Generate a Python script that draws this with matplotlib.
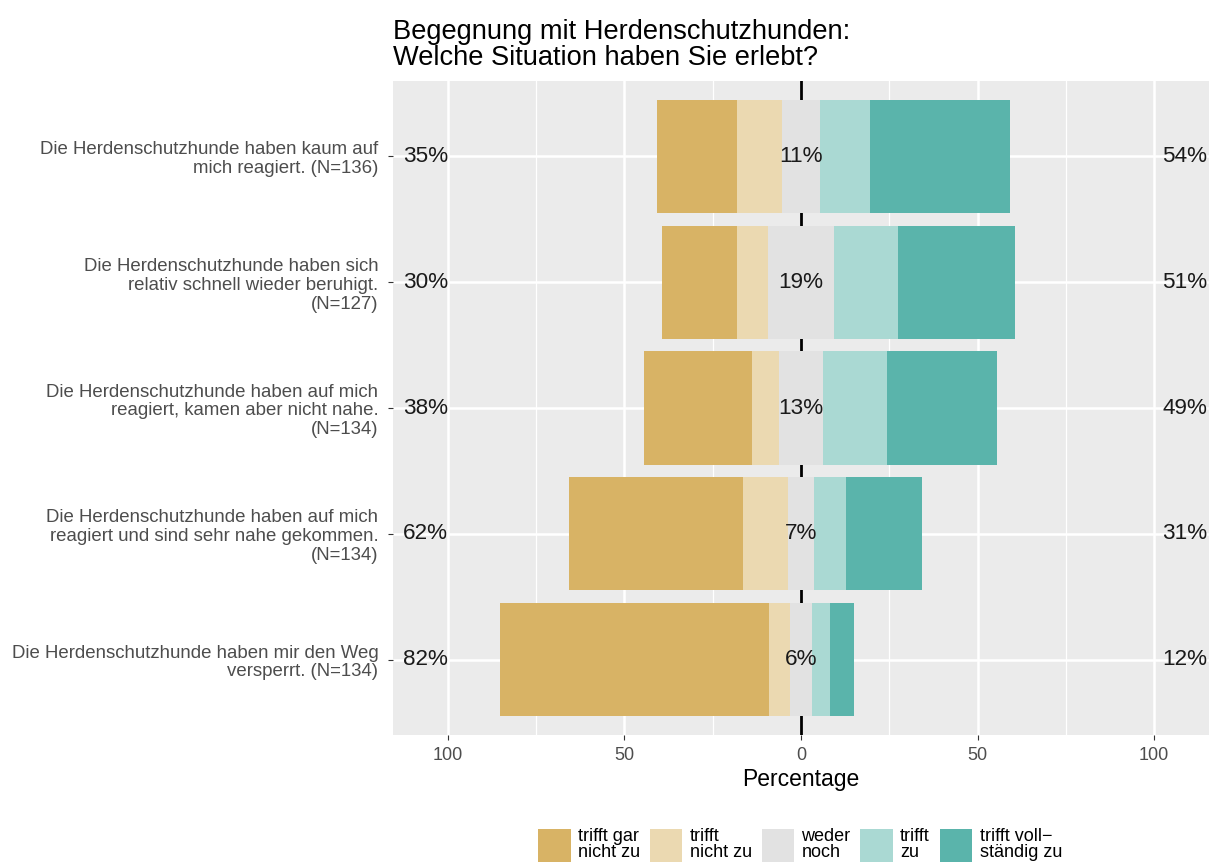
import matplotlib
matplotlib.use("Agg")
import matplotlib.pyplot as plt
from matplotlib.patches import Patch
import numpy as np

plt.rcParams['font.family'] = ['Liberation Sans', 'DejaVu Sans']

# ---- data (percent, top to bottom) ----
items = [
    "Die Herdenschutzhunde haben kaum auf\nmich reagiert. (N=136)",
    "Die Herdenschutzhunde haben sich\nrelativ schnell wieder beruhigt.\n(N=127)",
    "Die Herdenschutzhunde haben auf mich\nreagiert, kamen aber nicht nahe.\n(N=134)",
    "Die Herdenschutzhunde haben auf mich\nreagiert und sind sehr nahe gekommen.\n(N=134)",
    "Die Herdenschutzhunde haben mir den Weg\nversperrt. (N=134)",
]
trifft_gar_nicht_zu = [22.8, 21.3, 30.6, 49.3, 76.1]
trifft_nicht_zu = [12.5, 8.7, 7.5, 12.7, 6.0]
weder_noch = [11.0, 18.9, 12.7, 7.4, 6.0]
trifft_zu = [14.0, 18.1, 17.9, 9.0, 5.2]
trifft_vollstaendig_zu = [39.7, 33.1, 31.3, 21.6, 6.7]

level_labels = ["trifft gar\nnicht zu", "trifft\nnicht zu", "weder\nnoch", "trifft\nzu", "trifft voll\u2212\nständig zu"]
level_colors = ["#D8B365", "#EBD9B1", "#E2E2E2", "#AAD9D3", "#5AB4AB"]
x_ticks = [-100, -50, 0, 50, 100]
x_ticklabels = ["100", "50", "0", "50", "100"]
title = "Begegnung mit Herdenschutzhunden:\nWelche Situation haben Sie erlebt?"

W, H = 1211, 866
fig = plt.figure(figsize=(W / 100, H / 100), dpi=100)
ax = fig.add_axes([393 / W, 1 - 735 / H, (1209 - 393) / W, (735 - 81) / H])
ax.set_facecolor("#EBEBEB")
for s in ax.spines.values():
    s.set_visible(False)

n = len(items)
y = np.arange(n)
g = np.array(trifft_gar_nicht_zu)
nz = np.array(trifft_nicht_zu)
w = np.array(weder_noch)
z = np.array(trifft_zu)
v = np.array(trifft_vollstaendig_zu)

bh = 0.9
ax.barh(y, g, left=-(w / 2 + nz + g), height=bh, color=level_colors[0], zorder=3)
ax.barh(y, nz, left=-(w / 2 + nz), height=bh, color=level_colors[1], zorder=3)
ax.barh(y, w, left=-w / 2, height=bh, color=level_colors[2], zorder=3)
ax.barh(y, z, left=w / 2, height=bh, color=level_colors[3], zorder=3)
ax.barh(y, v, left=w / 2 + z, height=bh, color=level_colors[4], zorder=3)

ax.axvline(0, color="black", lw=2.0, zorder=2)

# grid
for xv in [-75, -25, 25, 75]:
    ax.axvline(xv, color="white", lw=0.9, zorder=1)
for xv in x_ticks:
    ax.axvline(xv, color="white", lw=1.8, zorder=1)
for yv in y:
    ax.axhline(yv, color="white", lw=1.8, zorder=1)

# labels
left_tot = g + nz
right_tot = z + v
fs_pct = 16.2
for i in range(n):
    ax.text(-112.6, y[i], f"{left_tot[i]:.0f}%", ha="left", va="center", fontsize=fs_pct, color="#1A1A1A", zorder=5)
    ax.text(114.9, y[i], f"{right_tot[i]:.0f}%", ha="right", va="center", fontsize=fs_pct, color="#1A1A1A", zorder=5)
    ax.text(0, y[i], f"{w[i]:.0f}%", ha="center", va="center", fontsize=fs_pct, color="#1A1A1A", zorder=5)

ax.set_xlim(-115.5, 115.5)
ax.set_ylim(n - 0.4, -0.6)
ax.set_xticks(x_ticks)
ax.set_xticklabels(x_ticklabels, fontsize=13, color="#4D4D4D")
ax.set_yticks(y)
ax.set_yticklabels(items, fontsize=13.4, color="#4D4D4D")
for lbl in ax.get_yticklabels():
    lbl.set_linespacing(1.15)
ax.tick_params(axis="both", length=3.5, width=0.8, color="#333333")
ax.tick_params(axis="y", pad=7)
ax.tick_params(axis="x", pad=5)
ax.set_xlabel("Percentage", fontsize=16.5, labelpad=3)

fig.text(393 / W, 1 - 65 / H, title, ha="left", va="baseline", fontsize=19.6, color="black", linespacing=0.98)

handles = [Patch(facecolor=c, edgecolor="none") for c in level_colors]
leg = fig.legend(handles, level_labels, ncol=5, loc="center", bbox_to_anchor=(800 / W, 1 - 845 / H),
                 frameon=False, fontsize=13, handlelength=1.8, handleheight=2.4,
                 handletextpad=0.4, columnspacing=0.55, borderpad=0)
for t in leg.get_texts():
    t.set_linespacing(0.92)

fig.savefig("out.png", dpi=100)
